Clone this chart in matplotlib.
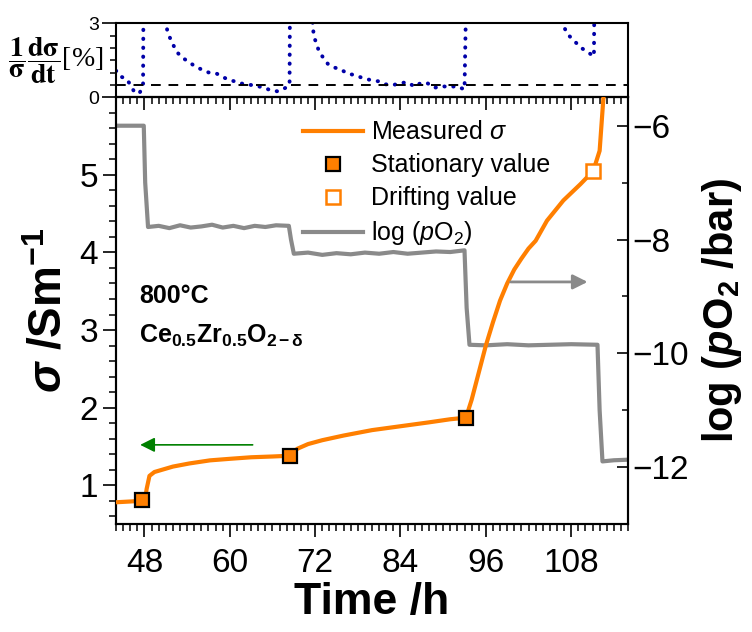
import matplotlib as mpl
import matplotlib.pyplot as plt
import numpy as np

mpl.rcParams.update({
    'font.family': 'Liberation Sans',
    'mathtext.fontset': 'custom',
    'mathtext.rm': 'Liberation Sans',
    'mathtext.it': 'Liberation Sans:italic',
    'mathtext.bf': 'Liberation Sans:bold',
    'mathtext.bfit': 'Liberation Sans:italic:bold',
    'axes.linewidth': 1.5,
})

# conductivity (S/m) vs time (h)
t_sigma = [44.0, 46.0, 47.7, 48.1, 48.3, 48.7, 49.4, 52.0, 54.3, 57.2, 60.0, 63.0, 66.0, 68.5,
           68.9, 69.5, 71.0, 73.0, 76.0, 80.0, 84.0, 88.0, 91.0, 93.2,
           94.0, 95.0, 96.0, 97.0, 98.0, 99.0, 100.0, 101.0, 102.0, 103.0, 104.6, 106.9,
           109.3, 111.1, 112.0, 112.5, 112.8]
sigma = [0.78, 0.79, 0.80, 0.82, 0.95, 1.12, 1.17, 1.24, 1.28, 1.32, 1.34, 1.36, 1.37, 1.38,
         1.42, 1.47, 1.53, 1.58, 1.64, 1.71, 1.76, 1.81, 1.85, 1.87,
         2.10, 2.45, 2.80, 3.10, 3.38, 3.60, 3.78, 3.92, 4.05, 4.15, 4.41, 4.67,
         4.88, 5.05, 5.31, 5.95, 6.30]

# stationary and drifting points
t_stat = [47.7, 68.5, 93.2]
sigma_stat = [0.805, 1.38, 1.87]
t_drift = [111.1]
sigma_drift = [5.05]

# log(pO2) trace, right axis
t_po2 = [44.0, 47.9, 48.1, 48.5, 50.0, 51.5, 53.0, 54.5, 56.0, 57.5, 59.0, 60.5, 62.0, 63.5,
         65.0, 66.5, 68.3,
         68.6, 69.0, 71.0, 73.0, 75.0, 77.0, 79.0, 81.0, 83.0, 85.0, 87.0, 89.0, 91.0, 93.0,
         93.3, 93.7, 96.0, 99.0, 102.0, 105.0, 108.0, 111.7,
         112.0, 112.4, 114.0, 116.0]
log_po2 = [-6.00, -6.00, -7.0, -7.78, -7.76, -7.80, -7.75, -7.79, -7.77, -7.74, -7.79, -7.76, -7.80,
           -7.76, -7.78, -7.75, -7.76,
           -8.0, -8.25, -8.23, -8.27, -8.24, -8.26, -8.23, -8.25, -8.22, -8.25, -8.23, -8.21,
           -8.22, -8.19,
           -9.2, -9.85, -9.86, -9.84, -9.86, -9.85, -9.84, -9.85,
           -11.0, -11.90, -11.88, -11.87]

# relative drift rate, top panel (%/h)
t_rate = [44.0, 44.6, 45.5, 46.1, 46.6, 47.3, 47.8, 47.85,
          51.0, 51.2, 51.6, 52.0, 52.5, 53.2, 54.0, 54.9, 55.8, 57.0, 58.1, 59.0, 60.0, 60.9,
          61.9, 62.8, 63.8, 64.8, 65.8, 66.8, 67.8, 68.4, 68.45,
          71.6, 71.8, 72.2, 72.5, 73.1, 73.8, 74.8, 75.6, 76.5, 77.7, 78.7, 79.8, 80.9, 81.8,
          83.0, 84.0, 85.0, 86.0, 86.9, 87.8, 88.8, 89.9, 90.8, 91.9, 93.0, 93.2,
          106.5, 107.4, 108.2, 108.9, 109.6, 110.5, 111.2, 111.25]
rate = [1.08, 0.85, 0.74, 0.47, 0.20, 0.17, 0.47, 3.5,
        3.2, 2.70, 2.40, 2.15, 1.86, 1.63, 1.48, 1.30, 1.16, 1.01, 0.97, 0.82, 0.70, 0.63,
        0.54, 0.51, 0.46, 0.39, 0.28, 0.24, 0.38, 0.50, 3.5,
        3.2, 2.48, 2.17, 1.89, 1.62, 1.35, 1.20, 1.13, 0.97, 0.89, 0.78, 0.70, 0.65, 0.53,
        0.50, 0.58, 0.61, 0.43, 0.59, 0.57, 0.39, 0.45, 0.42, 0.45, 0.32, 3.5,
        3.2, 2.59, 2.35, 2.15, 1.97, 1.80, 1.66, 3.5]
rate_limit = 0.5

ORANGE = '#ff7f00'
GREY = '#8a8a8a'
NAVY = '#0000a8'

fig = plt.figure(figsize=(7.52, 6.32), dpi=100)
ax = fig.add_axes([0.1543, 0.1709, 0.6809, 0.6752])
ax_top = fig.add_axes([0.1543, 0.8460, 0.6809, 0.1171], sharex=ax)
ax_r = ax.twinx()

# main panel
ax.plot(t_sigma, sigma, color=ORANGE, lw=3.0, zorder=3, label=r'Measured $\sigma$')
ax.plot(t_stat, sigma_stat, 's', ms=10, mfc=ORANGE, mec='black', mew=1.6,
        zorder=5, label='Stationary value')
ax.plot(t_drift, sigma_drift, 's', ms=10, mfc='white', mec=ORANGE, mew=1.8,
        zorder=5, label='Drifting value')
ax_r.plot(t_po2, log_po2, color=GREY, lw=3.0, zorder=2)
ax.plot([], [], color=GREY, lw=3.0, label=r'log ($p$O$_2$)')

ax.set_zorder(ax_r.get_zorder() + 1)
ax.patch.set_visible(False)

ax.set_xlim(44, 116)
ax.set_ylim(0.5, 6.0)
ax_r.set_ylim(-13.0, -5.5)

ax.set_xticks([48, 60, 72, 84, 96, 108])
ax.set_xticks(np.arange(44, 117, 1), minor=True)
ax.set_yticks([1, 2, 3, 4, 5])
ax.set_yticks(np.arange(0.6, 6.0, 0.2), minor=True)
ax_r.set_yticks([-6, -8, -10, -12])
ax_r.set_yticks([-7, -9, -11, -13], minor=True)
ax_r.set_yticklabels(['\u22126', '\u22128', '\u221210', '\u221212'])

ax.tick_params(axis='both', which='major', length=9.5, width=1.2, labelsize=24, direction='out')
ax.tick_params(axis='both', which='minor', length=4.8, width=1.1, direction='out')
ax.tick_params(axis='x', pad=8)
ax_r.tick_params(axis='y', which='major', length=8, width=1.2, labelsize=24, direction='in', pad=3)
ax_r.tick_params(axis='y', which='minor', length=4.5, width=1.1, direction='in')

ax.set_xlabel('Time /h', fontsize=32, fontweight='bold', labelpad=2)
ax.set_ylabel(r'$\mathbfit{\sigma}$ /Sm$^{\mathbf{-1}}$', fontsize=33, fontweight='bold', labelpad=6)
ax_r.set_ylabel(r'log ($\mathbfit{p}$O$_{\mathbf{2}}$ /bar)', fontsize=30, fontweight='bold', labelpad=8)

ax.text(0.045, 0.534, '800°C', transform=ax.transAxes, fontsize=18, fontweight='bold',
        va='center')
ax.text(0.045, 0.44, r'Ce$_{\mathbf{0.5}}$Zr$_{\mathbf{0.5}}$O$_{\mathbf{2-\delta}}$',
        transform=ax.transAxes, fontsize=18, fontweight='bold', va='center')

# direction arrows
ax.annotate('', xy=(47.0, 1.52), xytext=(63.6, 1.52),
            arrowprops=dict(arrowstyle='-|>', color='green', lw=1.2, mutation_scale=22))
ax.annotate('', xy=(110.7, 3.62), xytext=(99.1, 3.62),
            arrowprops=dict(arrowstyle='-|>', color=GREY, lw=2.0, mutation_scale=22))

leg = ax.legend(loc='upper left', bbox_to_anchor=(0.34, 0.975), frameon=False,
                fontsize=18, handlelength=2.4, handletextpad=0.35, labelspacing=0.36,
                borderpad=0.0)

# top panel: relative drift
ax_top.plot(t_rate, rate, color=NAVY, lw=2.8, linestyle=(0, (0.1, 2.2)),
            dash_capstyle='round', solid_capstyle='round')
ax_top.axhline(rate_limit, color='black', lw=1.4, linestyle=(0, (5, 4)))
ax_top.set_ylim(0, 3)
ax_top.set_yticks([0, 3])
ax_top.set_yticks(np.arange(0.5, 3, 0.5), minor=True)
ax_top.tick_params(axis='y', which='major', length=10, width=1.2, labelsize=14, pad=2)
ax_top.tick_params(axis='y', which='minor', length=4, width=1.1)
ax_top.tick_params(axis='x', which='major', length=9, width=1.2, direction='out', labelbottom=False)
ax_top.tick_params(axis='x', which='minor', length=4.8, width=1.1, direction='out')
ax_top.set_ylabel(r'$\mathbf{\dfrac{1}{\sigma}\dfrac{d\sigma}{dt}}$[%]', fontsize=20,
                  rotation=0, ha='right', va='center', family='Liberation Serif',
                  math_fontfamily='stix')
ax_top.yaxis.set_label_coords(-0.025, 0.5)

fig.savefig('out.png', dpi=100)
